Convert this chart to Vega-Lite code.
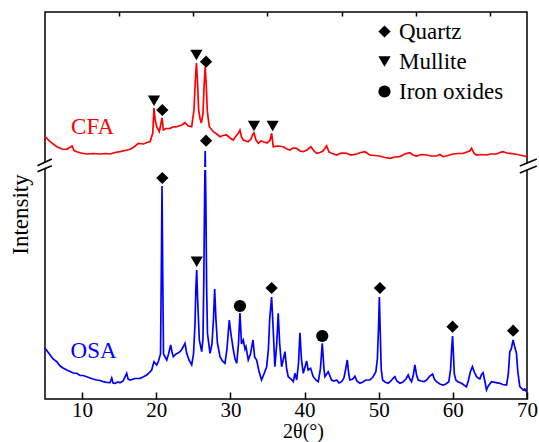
{
  "$schema": "https://vega.github.io/schema/vega-lite/v6.json",
  "width": 482,
  "height": 387,
  "autosize": {"type": "none"},
  "padding": {"left": 45, "top": 12, "right": 12, "bottom": 43},
  "background": "white",
  "config": {
    "font": "Liberation Serif",
    "view": {"stroke": "black", "strokeWidth": 1.5},
    "axis": {"labelFont": "Liberation Serif", "titleFont": "Liberation Serif", "labelColor": "black", "titleColor": "black", "titleFontWeight": "normal"},
    "legend": {"labelFont": "Liberation Serif", "labelFontSize": 23, "symbolSize": 150, "labelColor": "black"},
    "text": {"font": "Liberation Serif"}
  },
  "datasets": {
    "spectra": [
      {"sample":"CFA","theta":5.01,"intensity":262.3},{"sample":"CFA","theta":5.69,"intensity":257.3},{"sample":"CFA","theta":6.59,"intensity":252.3},{"sample":"CFA","theta":7.3,"intensity":250},{"sample":"CFA","theta":7.94,"intensity":249.7},{"sample":"CFA","theta":8.65,"intensity":253},{"sample":"CFA","theta":8.92,"intensity":248.5},{"sample":"CFA","theta":9.29,"intensity":247.3},{"sample":"CFA","theta":9.87,"intensity":246},{"sample":"CFA","theta":10.63,"intensity":245},{"sample":"CFA","theta":11.48,"intensity":245.5},{"sample":"CFA","theta":12.43,"intensity":245},{"sample":"CFA","theta":13.1,"intensity":245.5},{"sample":"CFA","theta":13.77,"intensity":245},{"sample":"CFA","theta":14.45,"intensity":246.5},{"sample":"CFA","theta":15.12,"intensity":247.3},{"sample":"CFA","theta":15.8,"intensity":248.5},{"sample":"CFA","theta":16.47,"intensity":249.7},{"sample":"CFA","theta":17.01,"intensity":252},{"sample":"CFA","theta":17.59,"intensity":255.7},{"sample":"CFA","theta":18.26,"intensity":255},{"sample":"CFA","theta":18.76,"intensity":256.5},{"sample":"CFA","theta":19.16,"intensity":257.3},{"sample":"CFA","theta":19.53,"intensity":265.7},{"sample":"CFA","theta":19.7,"intensity":291},{"sample":"CFA","theta":19.88,"intensity":278},{"sample":"CFA","theta":20.07,"intensity":272.3},{"sample":"CFA","theta":20.42,"intensity":267.3},{"sample":"CFA","theta":20.62,"intensity":275},{"sample":"CFA","theta":20.78,"intensity":281},{"sample":"CFA","theta":20.96,"intensity":269},{"sample":"CFA","theta":21.32,"intensity":270.5},{"sample":"CFA","theta":21.86,"intensity":270.7},{"sample":"CFA","theta":22.26,"intensity":272},{"sample":"CFA","theta":22.76,"intensity":272.3},{"sample":"CFA","theta":23.44,"intensity":274},{"sample":"CFA","theta":23.88,"intensity":276.3},{"sample":"CFA","theta":24.33,"intensity":273},{"sample":"CFA","theta":24.78,"intensity":272.3},{"sample":"CFA","theta":25.09,"intensity":289},{"sample":"CFA","theta":25.28,"intensity":320},{"sample":"CFA","theta":25.42,"intensity":336},{"sample":"CFA","theta":25.56,"intensity":318},{"sample":"CFA","theta":25.72,"intensity":289},{"sample":"CFA","theta":25.92,"intensity":280},{"sample":"CFA","theta":26.08,"intensity":276},{"sample":"CFA","theta":26.3,"intensity":285},{"sample":"CFA","theta":26.45,"intensity":312},{"sample":"CFA","theta":26.6,"intensity":332},{"sample":"CFA","theta":26.74,"intensity":315},{"sample":"CFA","theta":26.88,"intensity":289},{"sample":"CFA","theta":27.02,"intensity":280},{"sample":"CFA","theta":27.16,"intensity":272.3},{"sample":"CFA","theta":27.7,"intensity":267.3},{"sample":"CFA","theta":28.15,"intensity":265},{"sample":"CFA","theta":28.6,"intensity":262.3},{"sample":"CFA","theta":29.0,"intensity":263.5},{"sample":"CFA","theta":29.5,"intensity":264},{"sample":"CFA","theta":29.95,"intensity":261},{"sample":"CFA","theta":30.39,"intensity":259},{"sample":"CFA","theta":30.75,"intensity":263},{"sample":"CFA","theta":31.07,"intensity":265.7},{"sample":"CFA","theta":31.29,"intensity":269},{"sample":"CFA","theta":31.5,"intensity":262},{"sample":"CFA","theta":31.74,"intensity":259},{"sample":"CFA","theta":32.1,"intensity":258},{"sample":"CFA","theta":32.41,"intensity":257.3},{"sample":"CFA","theta":32.78,"intensity":260},{"sample":"CFA","theta":32.98,"intensity":264},{"sample":"CFA","theta":33.18,"intensity":266},{"sample":"CFA","theta":33.45,"intensity":259},{"sample":"CFA","theta":33.76,"intensity":255.7},{"sample":"CFA","theta":34.12,"intensity":258},{"sample":"CFA","theta":34.43,"intensity":257.3},{"sample":"CFA","theta":34.93,"intensity":256},{"sample":"CFA","theta":35.34,"intensity":258.5},{"sample":"CFA","theta":35.57,"intensity":265.7},{"sample":"CFA","theta":35.78,"intensity":252.3},{"sample":"CFA","theta":36.42,"intensity":253},{"sample":"CFA","theta":37.13,"intensity":252.3},{"sample":"CFA","theta":37.63,"intensity":250},{"sample":"CFA","theta":38.03,"intensity":249},{"sample":"CFA","theta":38.44,"intensity":251},{"sample":"CFA","theta":38.94,"intensity":250.7},{"sample":"CFA","theta":39.38,"intensity":248},{"sample":"CFA","theta":39.83,"intensity":247.3},{"sample":"CFA","theta":40.32,"intensity":249},{"sample":"CFA","theta":40.86,"intensity":252.3},{"sample":"CFA","theta":41.27,"intensity":248},{"sample":"CFA","theta":41.63,"intensity":245.7},{"sample":"CFA","theta":42.08,"intensity":246.5},{"sample":"CFA","theta":42.48,"intensity":248},{"sample":"CFA","theta":42.98,"intensity":253.3},{"sample":"CFA","theta":43.29,"intensity":247},{"sample":"CFA","theta":43.65,"intensity":245.7},{"sample":"CFA","theta":44.33,"intensity":244},{"sample":"CFA","theta":44.91,"intensity":246},{"sample":"CFA","theta":45.67,"intensity":245.7},{"sample":"CFA","theta":46.25,"intensity":244},{"sample":"CFA","theta":47.02,"intensity":245},{"sample":"CFA","theta":47.6,"intensity":246.5},{"sample":"CFA","theta":48.14,"intensity":247.3},{"sample":"CFA","theta":48.81,"intensity":244},{"sample":"CFA","theta":49.49,"intensity":243.5},{"sample":"CFA","theta":50.16,"intensity":243},{"sample":"CFA","theta":50.84,"intensity":241.5},{"sample":"CFA","theta":51.51,"intensity":240.7},{"sample":"CFA","theta":52.18,"intensity":242},{"sample":"CFA","theta":52.86,"intensity":242.3},{"sample":"CFA","theta":53.53,"intensity":245},{"sample":"CFA","theta":54.2,"intensity":246.3},{"sample":"CFA","theta":54.61,"intensity":244},{"sample":"CFA","theta":55.11,"intensity":243},{"sample":"CFA","theta":55.69,"intensity":244.5},{"sample":"CFA","theta":56.46,"intensity":244},{"sample":"CFA","theta":57.04,"intensity":243},{"sample":"CFA","theta":57.8,"intensity":243},{"sample":"CFA","theta":58.25,"intensity":244.5},{"sample":"CFA","theta":58.69,"intensity":242.3},{"sample":"CFA","theta":59.33,"intensity":243.5},{"sample":"CFA","theta":60.04,"intensity":245},{"sample":"CFA","theta":60.67,"intensity":245.5},{"sample":"CFA","theta":61.39,"intensity":245.7},{"sample":"CFA","theta":61.89,"intensity":247},{"sample":"CFA","theta":62.29,"intensity":248},{"sample":"CFA","theta":62.52,"intensity":250.7},{"sample":"CFA","theta":62.83,"intensity":246},{"sample":"CFA","theta":63.19,"intensity":244},{"sample":"CFA","theta":63.77,"intensity":244.5},{"sample":"CFA","theta":64.54,"intensity":244},{"sample":"CFA","theta":65.12,"intensity":245},{"sample":"CFA","theta":65.89,"intensity":245},{"sample":"CFA","theta":66.33,"intensity":246.5},{"sample":"CFA","theta":66.78,"intensity":247.3},{"sample":"CFA","theta":67.28,"intensity":246},{"sample":"CFA","theta":67.68,"intensity":245.7},{"sample":"CFA","theta":68.36,"intensity":245},{"sample":"CFA","theta":69.03,"intensity":244},{"sample":"CFA","theta":69.57,"intensity":243},{"sample":"CFA","theta":69.97,"intensity":242.3},
      {"sample":"OSA","theta":5.01,"intensity":50.7},{"sample":"OSA","theta":5.69,"intensity":44},{"sample":"OSA","theta":6.09,"intensity":40},{"sample":"OSA","theta":6.59,"intensity":37.3},{"sample":"OSA","theta":7.04,"intensity":33},{"sample":"OSA","theta":7.44,"intensity":31},{"sample":"OSA","theta":7.94,"intensity":29},{"sample":"OSA","theta":8.38,"intensity":27.5},{"sample":"OSA","theta":8.79,"intensity":26},{"sample":"OSA","theta":9.29,"intensity":25.7},{"sample":"OSA","theta":9.73,"intensity":23.5},{"sample":"OSA","theta":10.13,"intensity":23.5},{"sample":"OSA","theta":10.63,"intensity":22.3},{"sample":"OSA","theta":11.08,"intensity":21},{"sample":"OSA","theta":11.48,"intensity":20},{"sample":"OSA","theta":11.98,"intensity":19},{"sample":"OSA","theta":12.43,"intensity":18.5},{"sample":"OSA","theta":12.87,"intensity":17.3},{"sample":"OSA","theta":13.37,"intensity":16.5},{"sample":"OSA","theta":13.77,"intensity":16.3},{"sample":"OSA","theta":14.0,"intensity":21},{"sample":"OSA","theta":14.18,"intensity":16},{"sample":"OSA","theta":14.45,"intensity":15.7},{"sample":"OSA","theta":14.85,"intensity":17},{"sample":"OSA","theta":15.12,"intensity":16.3},{"sample":"OSA","theta":15.53,"intensity":18},{"sample":"OSA","theta":16.02,"intensity":25.7},{"sample":"OSA","theta":16.2,"intensity":20},{"sample":"OSA","theta":16.47,"intensity":19},{"sample":"OSA","theta":17.14,"intensity":20.5},{"sample":"OSA","theta":17.82,"intensity":20.7},{"sample":"OSA","theta":18.22,"intensity":22},{"sample":"OSA","theta":18.72,"intensity":24},{"sample":"OSA","theta":19.03,"intensity":26},{"sample":"OSA","theta":19.39,"intensity":29},{"sample":"OSA","theta":19.57,"intensity":34},{"sample":"OSA","theta":19.7,"intensity":37.3},{"sample":"OSA","theta":20.07,"intensity":34},{"sample":"OSA","theta":20.31,"intensity":38},{"sample":"OSA","theta":20.58,"intensity":45},{"sample":"OSA","theta":20.69,"intensity":130},{"sample":"OSA","theta":20.78,"intensity":213},{"sample":"OSA","theta":20.87,"intensity":130},{"sample":"OSA","theta":20.98,"intensity":45},{"sample":"OSA","theta":21.42,"intensity":39},{"sample":"OSA","theta":21.66,"intensity":45},{"sample":"OSA","theta":21.95,"intensity":54},{"sample":"OSA","theta":22.13,"intensity":47},{"sample":"OSA","theta":22.3,"intensity":42.3},{"sample":"OSA","theta":22.67,"intensity":45},{"sample":"OSA","theta":22.94,"intensity":46},{"sample":"OSA","theta":23.21,"intensity":47.3},{"sample":"OSA","theta":23.48,"intensity":50},{"sample":"OSA","theta":23.88,"intensity":55.7},{"sample":"OSA","theta":24.11,"intensity":45.7},{"sample":"OSA","theta":24.42,"intensity":39},{"sample":"OSA","theta":24.78,"intensity":34},{"sample":"OSA","theta":25.03,"intensity":45},{"sample":"OSA","theta":25.23,"intensity":75},{"sample":"OSA","theta":25.34,"intensity":110},{"sample":"OSA","theta":25.46,"intensity":129},{"sample":"OSA","theta":25.58,"intensity":100},{"sample":"OSA","theta":25.81,"intensity":59},{"sample":"OSA","theta":26.13,"intensity":47.3},{"sample":"OSA","theta":26.3,"intensity":60},{"sample":"OSA","theta":26.42,"intensity":120},{"sample":"OSA","theta":26.52,"intensity":200},{"sample":"OSA","theta":26.6,"intensity":248},{"sample":"OSA","theta":26.69,"intensity":200},{"sample":"OSA","theta":26.8,"intensity":110},{"sample":"OSA","theta":26.91,"intensity":65.7},{"sample":"OSA","theta":27.25,"intensity":45.7},{"sample":"OSA","theta":27.52,"intensity":55},{"sample":"OSA","theta":27.72,"intensity":80},{"sample":"OSA","theta":27.88,"intensity":110},{"sample":"OSA","theta":28.05,"intensity":80},{"sample":"OSA","theta":28.25,"intensity":56},{"sample":"OSA","theta":28.6,"intensity":42.3},{"sample":"OSA","theta":28.93,"intensity":38},{"sample":"OSA","theta":29.27,"intensity":35.7},{"sample":"OSA","theta":29.54,"intensity":50},{"sample":"OSA","theta":29.85,"intensity":79},{"sample":"OSA","theta":30.08,"intensity":65},{"sample":"OSA","theta":30.4,"intensity":49},{"sample":"OSA","theta":30.63,"intensity":40},{"sample":"OSA","theta":30.85,"intensity":35.7},{"sample":"OSA","theta":31.09,"intensity":55},{"sample":"OSA","theta":31.29,"intensity":86},{"sample":"OSA","theta":31.5,"intensity":55},{"sample":"OSA","theta":31.74,"intensity":59},{"sample":"OSA","theta":31.97,"intensity":50},{"sample":"OSA","theta":32.1,"intensity":52.3},{"sample":"OSA","theta":32.41,"intensity":39},{"sample":"OSA","theta":32.71,"intensity":45},{"sample":"OSA","theta":33.05,"intensity":59},{"sample":"OSA","theta":33.27,"intensity":42},{"sample":"OSA","theta":33.54,"intensity":39},{"sample":"OSA","theta":33.85,"intensity":28},{"sample":"OSA","theta":34.2,"intensity":19},{"sample":"OSA","theta":34.53,"intensity":25},{"sample":"OSA","theta":34.89,"intensity":32.3},{"sample":"OSA","theta":35.13,"intensity":50},{"sample":"OSA","theta":35.3,"intensity":80},{"sample":"OSA","theta":35.56,"intensity":102},{"sample":"OSA","theta":35.74,"intensity":75},{"sample":"OSA","theta":36.0,"intensity":32.3},{"sample":"OSA","theta":36.25,"intensity":55},{"sample":"OSA","theta":36.45,"intensity":85.7},{"sample":"OSA","theta":36.65,"intensity":55},{"sample":"OSA","theta":36.91,"intensity":32.3},{"sample":"OSA","theta":37.15,"intensity":40},{"sample":"OSA","theta":37.36,"intensity":47.3},{"sample":"OSA","theta":37.59,"intensity":30},{"sample":"OSA","theta":37.8,"intensity":22.3},{"sample":"OSA","theta":38.17,"intensity":20},{"sample":"OSA","theta":38.48,"intensity":17.3},{"sample":"OSA","theta":38.71,"intensity":25.7},{"sample":"OSA","theta":38.94,"intensity":19},{"sample":"OSA","theta":39.18,"intensity":35},{"sample":"OSA","theta":39.38,"intensity":66.3},{"sample":"OSA","theta":39.58,"intensity":40},{"sample":"OSA","theta":39.83,"intensity":25.7},{"sample":"OSA","theta":40.28,"intensity":38},{"sample":"OSA","theta":40.49,"intensity":29},{"sample":"OSA","theta":40.82,"intensity":30.7},{"sample":"OSA","theta":41.17,"intensity":22.3},{"sample":"OSA","theta":41.54,"intensity":19},{"sample":"OSA","theta":41.85,"intensity":17.3},{"sample":"OSA","theta":42.14,"intensity":30},{"sample":"OSA","theta":42.39,"intensity":55.7},{"sample":"OSA","theta":42.62,"intensity":30},{"sample":"OSA","theta":42.75,"intensity":22.3},{"sample":"OSA","theta":43.19,"intensity":27.3},{"sample":"OSA","theta":43.65,"intensity":19},{"sample":"OSA","theta":43.96,"intensity":18},{"sample":"OSA","theta":44.33,"intensity":19},{"sample":"OSA","theta":44.64,"intensity":16},{"sample":"OSA","theta":45.0,"intensity":17.3},{"sample":"OSA","theta":45.31,"intensity":21},{"sample":"OSA","theta":45.55,"intensity":30},{"sample":"OSA","theta":45.76,"intensity":39},{"sample":"OSA","theta":45.98,"intensity":24},{"sample":"OSA","theta":46.12,"intensity":19},{"sample":"OSA","theta":46.52,"intensity":20},{"sample":"OSA","theta":46.79,"intensity":22.7},{"sample":"OSA","theta":47.06,"intensity":18},{"sample":"OSA","theta":47.47,"intensity":15.7},{"sample":"OSA","theta":47.87,"intensity":17},{"sample":"OSA","theta":48.27,"intensity":19},{"sample":"OSA","theta":48.81,"intensity":19},{"sample":"OSA","theta":49.22,"intensity":22},{"sample":"OSA","theta":49.62,"intensity":27.3},{"sample":"OSA","theta":49.82,"intensity":40},{"sample":"OSA","theta":49.97,"intensity":70},{"sample":"OSA","theta":50.09,"intensity":102},{"sample":"OSA","theta":50.2,"intensity":70},{"sample":"OSA","theta":50.34,"intensity":30},{"sample":"OSA","theta":50.53,"intensity":19},{"sample":"OSA","theta":50.84,"intensity":17},{"sample":"OSA","theta":51.28,"intensity":15.7},{"sample":"OSA","theta":51.64,"intensity":18},{"sample":"OSA","theta":51.98,"intensity":21},{"sample":"OSA","theta":52.18,"intensity":22.3},{"sample":"OSA","theta":52.45,"intensity":18},{"sample":"OSA","theta":52.86,"intensity":15.7},{"sample":"OSA","theta":53.26,"intensity":17},{"sample":"OSA","theta":53.67,"intensity":20},{"sample":"OSA","theta":53.98,"intensity":24},{"sample":"OSA","theta":54.2,"intensity":20},{"sample":"OSA","theta":54.43,"intensity":17.3},{"sample":"OSA","theta":54.67,"intensity":24},{"sample":"OSA","theta":54.88,"intensity":34},{"sample":"OSA","theta":55.11,"intensity":24},{"sample":"OSA","theta":55.33,"intensity":19},{"sample":"OSA","theta":55.69,"intensity":18},{"sample":"OSA","theta":56.09,"intensity":17.3},{"sample":"OSA","theta":56.46,"intensity":19},{"sample":"OSA","theta":56.9,"intensity":23},{"sample":"OSA","theta":57.27,"intensity":25},{"sample":"OSA","theta":57.51,"intensity":20},{"sample":"OSA","theta":57.8,"intensity":17.3},{"sample":"OSA","theta":58.25,"intensity":15},{"sample":"OSA","theta":58.69,"intensity":14},{"sample":"OSA","theta":59.06,"intensity":15},{"sample":"OSA","theta":59.46,"intensity":17.3},{"sample":"OSA","theta":59.7,"intensity":30},{"sample":"OSA","theta":59.84,"intensity":50},{"sample":"OSA","theta":59.96,"intensity":63},{"sample":"OSA","theta":60.08,"intensity":45},{"sample":"OSA","theta":60.2,"intensity":25},{"sample":"OSA","theta":60.4,"intensity":19},{"sample":"OSA","theta":60.67,"intensity":17.3},{"sample":"OSA","theta":61.17,"intensity":15.7},{"sample":"OSA","theta":61.48,"intensity":14},{"sample":"OSA","theta":61.84,"intensity":12.3},{"sample":"OSA","theta":62.08,"intensity":18},{"sample":"OSA","theta":62.35,"intensity":27},{"sample":"OSA","theta":62.64,"intensity":32.3},{"sample":"OSA","theta":62.89,"intensity":27},{"sample":"OSA","theta":63.19,"intensity":22.3},{"sample":"OSA","theta":63.43,"intensity":21},{"sample":"OSA","theta":63.64,"intensity":20},{"sample":"OSA","theta":63.84,"intensity":24},{"sample":"OSA","theta":64.08,"intensity":26.3},{"sample":"OSA","theta":64.31,"intensity":18},{"sample":"OSA","theta":64.54,"intensity":9},{"sample":"OSA","theta":64.78,"intensity":13},{"sample":"OSA","theta":65.22,"intensity":17.3},{"sample":"OSA","theta":65.66,"intensity":16.7},{"sample":"OSA","theta":66.33,"intensity":15.7},{"sample":"OSA","theta":66.74,"intensity":14.5},{"sample":"OSA","theta":67.24,"intensity":14},{"sample":"OSA","theta":67.48,"intensity":25},{"sample":"OSA","theta":67.68,"intensity":47.3},{"sample":"OSA","theta":67.88,"intensity":50},{"sample":"OSA","theta":68.12,"intensity":59},{"sample":"OSA","theta":68.35,"intensity":52},{"sample":"OSA","theta":68.58,"intensity":45.7},{"sample":"OSA","theta":68.75,"intensity":28},{"sample":"OSA","theta":69.03,"intensity":12.3},{"sample":"OSA","theta":69.3,"intensity":10.5},{"sample":"OSA","theta":69.48,"intensity":9},{"sample":"OSA","theta":69.7,"intensity":10},{"sample":"OSA","theta":69.93,"intensity":7.3}
    ],
    "markers": [
      {"phase":"Mullite","theta":19.7,"intensity":298.3},
      {"phase":"Quartz","theta":20.82,"intensity":289},
      {"phase":"Mullite","theta":25.42,"intensity":344},
      {"phase":"Quartz","theta":26.72,"intensity":337.3},
      {"phase":"Mullite","theta":33.18,"intensity":273},
      {"phase":"Mullite","theta":35.7,"intensity":273},
      {"phase":"Quartz","theta":20.82,"intensity":221},
      {"phase":"Quartz","theta":26.72,"intensity":258.3},
      {"phase":"Mullite","theta":25.46,"intensity":137.3},
      {"phase":"Iron oxides","theta":31.29,"intensity":93},
      {"phase":"Quartz","theta":35.56,"intensity":111},
      {"phase":"Iron oxides","theta":42.39,"intensity":63},
      {"phase":"Quartz","theta":50.16,"intensity":111},
      {"phase":"Quartz","theta":59.96,"intensity":72.3},
      {"phase":"Quartz","theta":68.13,"intensity":68.3}
    ],
    "masks": [
      {"theta":4.8,"theta2":5.2,"intensity":231.3,"intensity2":236.5},
      {"theta":69.8,"theta2":70.2,"intensity":229.5,"intensity2":235.5},
      {"theta":26.35,"theta2":26.9,"intensity":229,"intensity2":232}
    ],
    "slashes": [
      {"theta":3.98,"theta2":5.92,"intensity":233.3,"intensity2":240},
      {"theta":3.98,"theta2":5.92,"intensity":227.3,"intensity2":233.3},
      {"theta":69.03,"theta2":71.32,"intensity":233,"intensity2":240},
      {"theta":69.03,"theta2":71.32,"intensity":226,"intensity2":233}
    ],
    "labels": [
      {"sample":"CFA","theta":11.42,"intensity":272},
      {"sample":"OSA","theta":11.55,"intensity":48}
    ]
  },
  "layer": [
    {
      "data": {"name": "spectra"},
      "mark": {"type": "line", "strokeWidth": 1.7, "interpolate": "linear"},
      "encoding": {
        "x": {"field": "theta", "type": "quantitative",
              "scale": {"domain": [5, 70], "nice": false, "zero": false},
              "axis": {"values": [10, 20, 30, 40, 50, 60, 70], "tickSize": -7, "tickWidth": 1.5, "tickColor": "black",
                       "domain": false, "grid": false, "labelFont": "Liberation Serif", "labelFontSize": 21,
                       "labelColor": "black", "labelPadding": 7, "labelFlush": false,
                       "title": "2θ(°)", "titleFont": "Liberation Serif", "titleFontSize": 20, "titleFontWeight": "normal",
                       "titleColor": "black", "titleX": 258, "titleY": 32, "titleBaseline": "middle", "titleAlign": "center"}},
        "y": {"field": "intensity", "type": "quantitative",
              "scale": {"domain": [0, 387], "nice": false, "zero": false},
              "axis": {"labels": false, "ticks": false, "domain": false, "grid": false,
                       "title": "Intensity", "titleFont": "Liberation Serif", "titleFontSize": 23, "titleFontWeight": "normal",
                       "titleColor": "black", "titleX": -25, "titleY": 202, "titleBaseline": "middle", "titleAlign": "center"}},
        "color": {"field": "sample", "type": "nominal",
                  "scale": {"domain": ["CFA", "OSA"], "range": ["#ff0000", "#0000ff"]}, "legend": null},
        "detail": {"field": "sample"}
      }
    },
    {
      "data": {"name": "masks"},
      "mark": {"type": "rect", "color": "white", "opacity": 1, "clip": false},
      "encoding": {
        "x": {"field": "theta", "type": "quantitative",
              "axis": {"values": [15, 25, 35, 45, 55, 65], "tickSize": -4, "tickWidth": 1.5, "tickColor": "black",
                       "labels": false, "domain": false, "grid": false, "title": null}},
        "x2": {"field": "theta2"},
        "y": {"field": "intensity", "type": "quantitative"},
        "y2": {"field": "intensity2"}
      }
    },
    {
      "data": {"name": "slashes"},
      "mark": {"type": "rule", "color": "black", "strokeWidth": 1.5, "clip": false},
      "encoding": {
        "x": {"field": "theta", "type": "quantitative", "axis": null},
        "x2": {"field": "theta2"},
        "y": {"field": "intensity", "type": "quantitative"},
        "y2": {"field": "intensity2"}
      }
    },
    {
      "data": {"name": "markers"},
      "mark": {"type": "point", "filled": true, "color": "black", "opacity": 1, "size": 150, "strokeWidth": 0},
      "encoding": {
        "x": {"field": "theta", "type": "quantitative", "axis": null},
        "y": {"field": "intensity", "type": "quantitative"},
        "shape": {"field": "phase", "type": "nominal",
                  "scale": {"domain": ["Quartz", "Mullite", "Iron oxides"], "range": ["diamond", "triangle-down", "circle"]},
                  "legend": {"orient": "none", "legendX": 328, "legendY": 8, "title": null,
                             "labelFont": "Liberation Serif", "labelFontSize": 23, "labelColor": "black",
                             "symbolFillColor": "black", "symbolStrokeColor": "black", "symbolStrokeWidth": 0, "symbolSize": 150,
                             "rowPadding": 6, "labelOffset": 3, "padding": 0}}
      }
    },
    {
      "data": {"name": "labels"},
      "mark": {"type": "text", "font": "Liberation Serif", "fontSize": 23, "align": "center", "baseline": "middle"},
      "encoding": {
        "x": {"field": "theta", "type": "quantitative", "axis": null},
        "y": {"field": "intensity", "type": "quantitative"},
        "text": {"field": "sample"},
        "color": {"field": "sample", "type": "nominal"}
      }
    }
  ],
  "resolve": {"axis": {"x": "independent"}}
}
